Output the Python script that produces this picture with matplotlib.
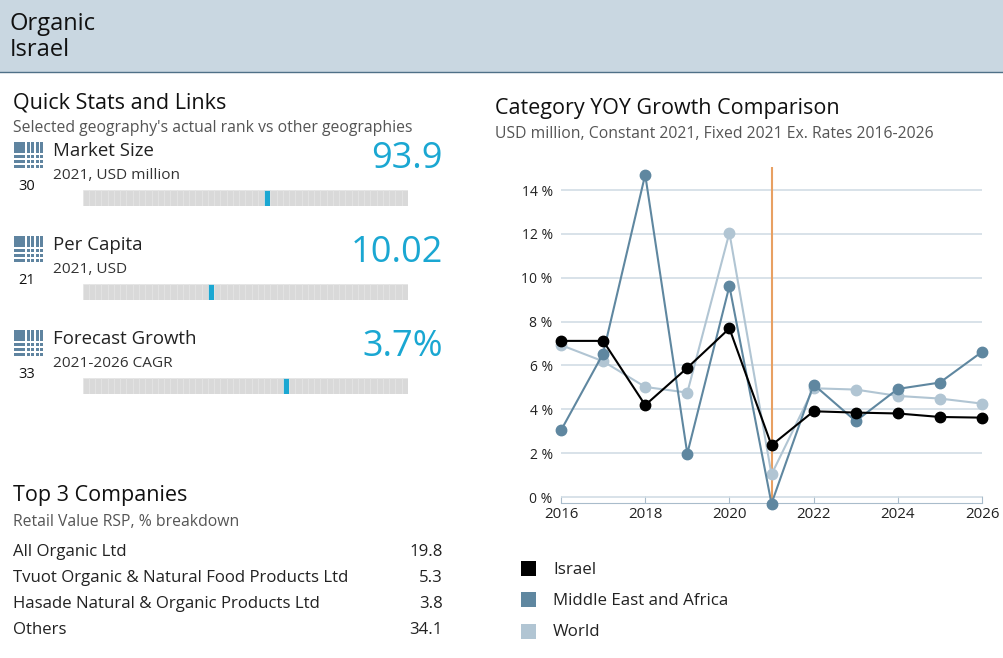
import numpy as np
import matplotlib
matplotlib.use("Agg")
import matplotlib.pyplot as plt
from matplotlib.patches import Rectangle

plt.rcParams['font.family'] = ['Open Sans', 'DejaVu Sans']

# ---- data ----
category = "Organic"
geography = "Israel"

stat_names = ["Market Size", "Per Capita", "Forecast Growth"]
stat_units = ["2021, USD million", "2021, USD", "2021-2026 CAGR"]
stat_values = ["93.9", "10.02", "3.7%"]
stat_ranks = [30, 21, 33]
n_geographies = 52

companies = ["All Organic Ltd",
             "Tvuot Organic & Natural Food Products Ltd",
             "Hasade Natural & Organic Products Ltd",
             "Others"]
company_shares = [19.8, 5.3, 3.8, 34.1]

years = list(range(2016, 2027))
israel = [7.12, 7.12, 4.19, 5.89, 7.69, 2.36, 3.91, 3.85, 3.81, 3.65, 3.62]
mea = [3.04, 6.54, 14.70, 1.98, 9.62, -0.30, 5.13, 3.46, 4.93, 5.22, 6.62]
world = [6.93, 6.19, 5.02, 4.76, 12.05, 1.03, 4.96, 4.90, 4.61, 4.49, 4.26]
series_names = ["Israel", "Middle East and Africa", "World"]
series_values = [israel, mea, world]
series_colors = ["#000000", "#5f87a0", "#b1c5d3"]
base_year = 2021

# ---- figure ----
W, H = 1004, 658
fig = plt.figure(figsize=(W / 100, H / 100), dpi=100)
fig.patch.set_facecolor("white")


def px_axes(x0, y0, x1, y1):
    """axes placed with pixel coords (origin top-left)"""
    return fig.add_axes([x0 / W, 1 - y1 / H, (x1 - x0) / W, (y1 - y0) / H])


# overlay for page texts
ov = fig.add_axes([0, 0, 1, 1])
ov.set_xlim(0, W)
ov.set_ylim(H, 0)
ov.axis("off")
T = 1.5  # small nudge so text sits like the reference


def txt(x, y, s, **kw):
    ov.text(x, y + T, s, va="center", **kw)


# header band
ov.add_patch(Rectangle((0, 0), W, 72, facecolor="#c9d7e1", edgecolor="none"))
ov.plot([0, W], [72, 72], color="#4f7087", lw=1)
txt(10, 22, category, fontsize=17, color="#111111")
txt(10, 49, geography, fontsize=17, color="#111111")

# quick stats
txt(13, 101, "Quick Stats and Links", fontsize=15.5, color="#111111")
txt(13, 126, "Selected geography's actual rank vs other geographies",
    fontsize=11.3, color="#555555")

icon_color = "#5f84a0"
cyan = "#1aa7d2"
for i, (name, unit, val, rank) in enumerate(zip(stat_names, stat_units, stat_values, stat_ranks)):
    dy = i * 94
    # grid icon
    ix, iy = 14, 142 + dy
    ov.add_patch(Rectangle((ix, iy), 11, 11, facecolor=icon_color, edgecolor="none"))
    for r in range(3):
        ov.add_patch(Rectangle((ix, iy + 13 + r * 5), 11, 3, facecolor=icon_color, edgecolor="none"))
    for c in range(4):
        cx = ix + 13 + c * 4.5
        ov.add_patch(Rectangle((cx, iy), 3, 11, facecolor=icon_color, edgecolor="none"))
        for r in range(3):
            ov.add_patch(Rectangle((cx, iy + 13 + r * 5), 3, 3, facecolor=icon_color, edgecolor="none"))
    txt(27, 185 + dy, str(rank), fontsize=10.5, color="#111111", ha="center")
    txt(53, 150 + dy, name, fontsize=13.4, color="#222222")
    txt(53, 174 + dy, unit, fontsize=11.1, color="#333333")
    txt(443, 158 + dy, val, fontsize=26, color=cyan, ha="right")

    # rank bar
    bx = px_axes(82.7, 190 + dy, 408, 206 + dy)
    cells = np.arange(n_geographies)
    cols = ["#d9d9d9"] * n_geographies
    cols[rank - 1] = cyan
    bx.bar(cells, 1, width=1, align="edge", color=cols, edgecolor="#e4e4e4", linewidth=0.5)
    bx.set_xlim(0, n_geographies)
    bx.set_ylim(0, 1)
    bx.axis("off")

# top companies
txt(13, 494, "Top 3 Companies", fontsize=15.5, color="#111111")
txt(13, 520, "Retail Value RSP, % breakdown", fontsize=11.3, color="#555555")
for k, (comp, share) in enumerate(zip(companies, company_shares)):
    y = 550 + k * 26.3
    txt(13, y, comp, fontsize=12.1, color="#222222")
    txt(443, y, f"{share:.1f}", fontsize=12.1, color="#222222", ha="right")

# chart titles
txt(495, 107, "Category YOY Growth Comparison", fontsize=15.5, color="#111111")
txt(495, 132, "USD million, Constant 2021, Fixed 2021 Ex. Rates 2016-2026",
    fontsize=11.3, color="#555555")

# ---- line chart ----
ax = px_axes(561, 167, 982, 502.5)
ax.set_xlim(2016, 2026)
ax.set_ylim(-0.25, 15.05)
ax.set_yticks(range(0, 15, 2))
ax.set_yticklabels([f"{v} %" for v in range(0, 15, 2)])
ax.set_xticks(range(2016, 2027, 2))
ax.grid(axis="y", color="#d2dde5", lw=1.2)
ax.set_axisbelow(True)
for s in ["top", "right", "left"]:
    ax.spines[s].set_visible(False)
ax.spines["bottom"].set_color("#a9bccb")
ax.tick_params(axis="y", length=0, pad=6, labelsize=10, labelcolor="#222222")
ax.tick_params(axis="x", direction="in", length=5, color="#a9bccb", pad=3,
               labelsize=10.8, labelcolor="#222222")

ax.axvline(base_year, color="#e8a062", lw=1.5, zorder=1.5)
for name, vals, col in zip(series_names[::-1], series_values[::-1], series_colors[::-1]):
    ax.plot(years, vals, color=col, lw=1.5, marker="o", markersize=7.5, clip_on=False, zorder=3)

# legend
for k, (name, col) in enumerate(zip(series_names, series_colors)):
    y = 568 + k * 31.5
    ov.add_patch(Rectangle((521, y - 7.5), 15, 15, facecolor=col, edgecolor="none"))
    txt(553, y, name, fontsize=12.2, color="#222222")

fig.savefig("out.png", dpi=100)
